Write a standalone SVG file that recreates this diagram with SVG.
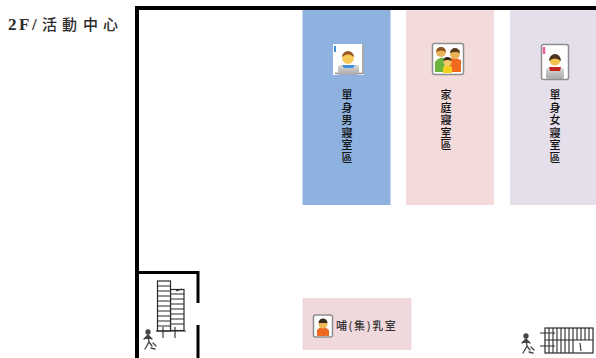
<svg xmlns="http://www.w3.org/2000/svg" width="596" height="358" viewBox="0 0 596 358">
<style>
.lbl{font-family:"Noto Sans CJK TC","Noto Sans CJK SC",sans-serif;font-size:11px;font-weight:500;fill:#111;text-anchor:middle}
.wall{fill:#000}
.st{fill:#fff;stroke:#2a2a2a;stroke-width:1.200}
.rung{stroke:#2a2a2a;stroke-width:1.100;fill:none}
.card{fill:#fff;stroke:#8e8e8e;stroke-width:1.500}
.man{fill:#444;stroke:#444;stroke-width:1.300;stroke-linecap:round}
</style>
<defs>
<linearGradient id="gr" x1="0" y1="0" x2="0" y2="1"><stop offset="0" stop-color="#d8d8d8"/><stop offset="1" stop-color="#a8a8a8"/></linearGradient>
<g id="walker">
<circle cx="0" cy="-8" r="2" class="man"/>
<path class="man" fill="none" d="M0-5 L1 2 M-4-1 L0-5 L4-1 M1 2 L-3 9 M1 2 L4 6 M5 3 L8 6 M3 8 L7 9"/>
</g>
</defs>
<rect width="596" height="358" fill="#fff"/>
<text id="title" x="8 19 32" y="30" font-family="'Liberation Serif','Noto Sans CJK TC',serif" font-size="17" font-weight="bold" fill="#2b2b2b">2F/<tspan x="42 62 83 103" y="30" font-family="'Noto Sans CJK TC',sans-serif" font-size="15" font-weight="500">活動中心</tspan></text>
<g id="room-male">
<rect x="302.500" y="10" width="88" height="195" fill="#8db2e0"/>
<rect x="333" y="44" width="31" height="31" fill="#fff"/>
<path d="M363 44V73.500H335" fill="none" stroke="#8e8e8e" stroke-width="1.500"/>
<rect x="338" y="65" width="21" height="10" rx="2" fill="url(#gr)"/>
<path d="M342 65h13l-2 3h-9z" fill="#3d8fd8"/>
<circle cx="348" cy="58" r="6" fill="#f5c95a"/>
<path d="M342 57a6 6 0 0 1 12 0q-3-3-6-2.500q-3-.5-6 2.500z" fill="#9a5a24"/>
<path d="M335 46v6" stroke="#3d8fd8" stroke-width="2"/>
<text class="lbl" x="347 347 347 347 347 347" y="99 112 124 137 149 162">單身男寢室區</text>
</g>
<g id="room-family">
<rect x="406" y="10" width="88" height="195" fill="#f2dbda"/>
<rect x="432.500" y="43.500" width="31" height="31" rx="2" class="card"/>
<path d="M435 72v-10q4-5 9-4q2 2 0 14z" fill="#6cb33f"/>
<path d="M447 72v-12q6-4 14 0v12z" fill="#ef6a1f"/>
<circle cx="441" cy="52" r="5" fill="#e9b257"/>
<path d="M436 52a5 5 0 0 1 10 0q-5-3-10 0z" fill="#8a5526"/>
<circle cx="455" cy="54" r="5" fill="#e9b257"/>
<path d="M450 53a5 5 0 0 1 10 0q-5-2-10 0z" fill="#5c3b1e"/>
<path d="M443 73v-6q5-3 9 0v6z" fill="#f3d21e"/>
<circle cx="447.500" cy="62" r="4" fill="#f5cb66"/>
<path d="M443.500 61a4 4 0 0 1 8 0q-4-2-8 0z" fill="#3a2a1c"/>
<text class="lbl" x="446 446 446 446 446" y="99 112 124 137 149">家庭寢室區</text>
</g>
<g id="room-female">
<rect x="510" y="10" width="86" height="195" fill="#e4dfeb"/>
<rect x="541.500" y="44.500" width="27" height="35" rx="2" fill="#fff" stroke="#8e8e8e" stroke-width="1.500"/>
<rect x="546" y="68" width="18" height="11" rx="2" fill="url(#gr)"/>
<path d="M549 67h12l-1 4h-10z" fill="#c4261d"/>
<circle cx="555" cy="60" r="5.500" fill="#f2c34f"/>
<path d="M549 61a6 7 0 0 1 12 0q-6-5-12 0z" fill="#4a3324"/>
<path d="M544 47v7" stroke="#ee5f9b" stroke-width="2.500"/>
<text class="lbl" x="555 555 555 555 555 555" y="99 112 124 137 149 162">單身女寢室區</text>
</g>
<g id="room-nursing">
<rect x="302.500" y="298" width="109" height="52" fill="#efd9dd"/>
<rect x="313.500" y="315" width="19" height="22" rx="2" class="card"/>
<path d="M317 336v-6q5-6 12 0v6z" fill="#ee6a20"/>
<circle cx="323" cy="324" r="4.500" fill="#edb95b"/>
<path d="M318.500 323a4.500 4.500 0 0 1 9 0z" fill="#3c2a1d"/>
<text x="336" y="330" font-family="'Noto Sans CJK TC',sans-serif" font-size="11" font-weight="500" fill="#333" letter-spacing="1.600">哺(集)乳室</text>
</g>
<g id="walls">
<path class="wall" d="M135 358V6H596V10H139V271H199.500V303H196.500V274H139V358Z"/>
<rect class="wall" x="196.500" y="325" width="3" height="33"/>
</g>
<g id="stairs-left">
<rect class="st" x="170.500" y="289.500" width="13.500" height="41"/>
<rect class="st" x="157.500" y="281" width="13" height="50"/>
<path class="rung" d="M158 286h12M158 291h12M158 296h12M158 301h12M158 306h12M158 311h12M158 316h12M158 321h12M158 326h12M171 294h13M171 299h13M171 304h13M171 309h13M171 314h13M171 319h13M171 324h13M156 331h30M163 327v11M175 327v11M176 291l6-2"/>
<use href="#walker" x="148" y="340"/>
</g>
<g id="stairs-right">
<rect class="st" x="545" y="328" width="48" height="25"/>
<path class="rung" d="M545 340h48M540 333h15M540 346h15M549 328v25M553 328v25M557 328v25M561 328v25M565 328v25M569 328v25M573 328v25M577 328v12M581 328v12M585 328v12M589 328v12M580 343l1 8"/>
<use href="#walker" x="526" y="344"/>
</g>
</svg>
